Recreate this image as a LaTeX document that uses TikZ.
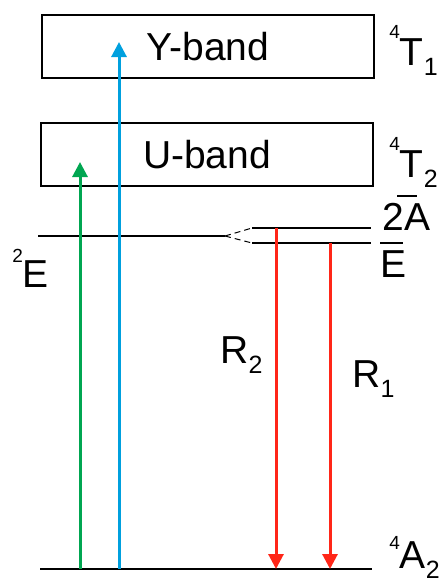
\documentclass[tikz,border=0pt]{standalone}
\usepackage{fontspec}
\setmainfont{Liberation Sans}
\usepackage{tikz}
\usetikzlibrary{arrows.meta}

% term symbols: raised multiplicity, lowered index, shifted bar
\newcommand{\lsup}[2][13.5pt]{\raisebox{#1}{\fontsize{9.5}{11}\selectfont #2}}
\newcommand{\lsub}[1]{\raisebox{-5pt}{\fontsize{12.5}{14}\selectfont #1}}
\newcommand{\obar}[3][0em]{\makebox[0pt][l]{\kern#1\rule[0.84em]{#2}{0.05em}}#3}

\begin{document}
\begin{tikzpicture}[x=0.5pt, y=-0.5pt,
    every node/.style={font=\fontsize{19.5}{23}\selectfont},
    band/.style={draw, line width=1pt, minimum width=166pt, minimum height=31.5pt,
                 text height=14pt, text depth=0pt, inner sep=0pt},
    term/.style={anchor=base west, inner sep=0pt},
    level/.style={line width=1pt},
    split/.style={line width=0.5pt, dash pattern=on 3pt off 2pt},
    pump/.style={line width=1.5pt, -{Triangle[width=7.5pt, length=7.5pt]}}]

    % Colours
    \definecolor{cgreen}{RGB}{0,166,81}
    \definecolor{cblue}{RGB}{0,160,222}
    \definecolor{cred}{RGB}{255,38,24}

    \useasboundingbox (0,0) rectangle (441,579);

    % Bands
    \node[band] (yband) at (208,46.5) {Y-band};
    \node[band] (uband) at (207,154) {U-band};

    % Levels
    \coordinate (e2l) at (38,236);
    \coordinate (e2r) at (225,236);
    \coordinate (a2l) at (252,228);
    \coordinate (a2r) at (371,228);
    \coordinate (ebl) at (252,243);
    \coordinate (ebr) at (371,243);
    \coordinate (gl) at (40,569);
    \coordinate (gr) at (372,569);
    \draw[level] (e2l) -- (e2r);
    \draw[split] (e2r) -- (a2l);
    \draw[split] (e2r) -- (ebl);
    \draw[level] (a2l) -- (a2r);
    \draw[level] (ebl) -- (ebr);
    \draw[level] (gl) -- (gr);

    % Absorption
    \coordinate (gu) at (80,569);
    \coordinate (tu) at (80,162);
    \coordinate (gy) at (119,569);
    \coordinate (ty) at (119,42);
    \draw[pump, cgreen] (gu) -- (tu);
    \draw[pump, cblue] (gy) -- (ty);

    % Emission
    \coordinate (r2top) at (276,228);
    \coordinate (r2bot) at (276,569);
    \coordinate (r1top) at (330,243);
    \coordinate (r1bot) at (330,569);
    \draw[pump, cred] (r2top) -- (r2bot);
    \draw[pump, cred] (r1top) -- (r1bot);

    % Labels
    \node[term] (t1) at (389,65) {\lsup{4}T\lsub{1}};
    \node[term] (t2) at (389,177) {\lsup{4}T\lsub{2}};
    \node[term] (a2bar) at (382,230) {2\obar[-0.18em]{0.52em}{A}};
    \node[term] (ebar) at (380,277) {\obar{0.58em}{E}};
    \node[term] (e2) at (12,287) {\lsup[12.5pt]{2}E};
    \node[term] (r2) at (220,363) {R\lsub{2}};
    \node[term] (r1) at (352,387) {R\lsub{1}};
    \node[term] (a2) at (389,568) {\lsup[9.5pt]{4}A\lsub{2}};
\end{tikzpicture}
\end{document}
